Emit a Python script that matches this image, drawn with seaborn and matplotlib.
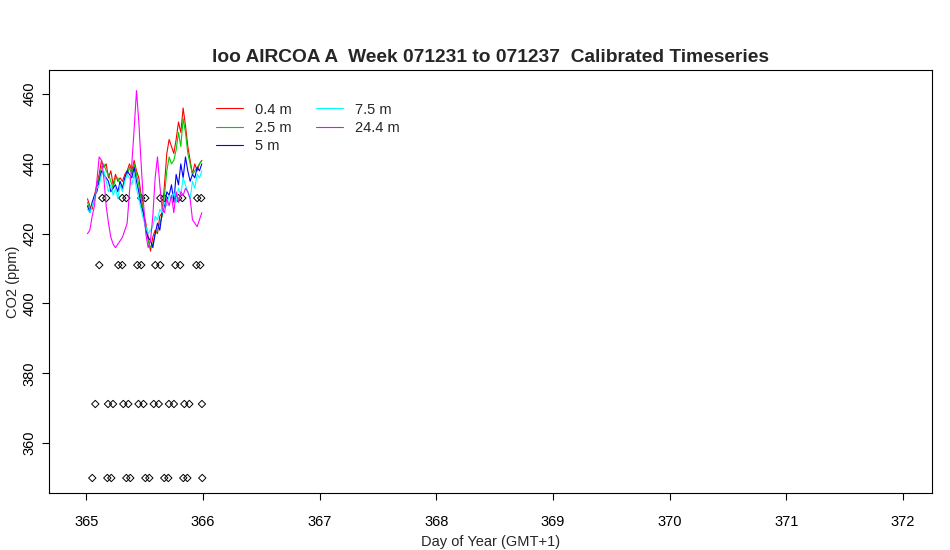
import numpy as np
import pandas as pd
import matplotlib
matplotlib.use('Agg')
import matplotlib.pyplot as plt
import seaborn as sns

# half-hourly-ish samples over day 365
days = [365.01 + 0.02 * i for i in range(50)]

co2_04 = [430, 428, 427, 431, 434, 437, 441, 439, 440, 436,
          438, 434, 437, 435, 436, 435, 437, 438, 440, 438,
          441, 438, 436, 431, 426, 423, 419, 415, 419, 421,
          420, 425, 426, 434, 443, 447, 445, 443, 447, 452,
          449, 456, 451, 445, 441, 437, 440, 438, 440, 441]
co2_25 = [429, 427, 428, 430, 433, 436, 439, 440, 438, 437,
          435, 433, 436, 436, 434, 433, 436, 437, 439, 437,
          440, 437, 434, 430, 425, 422, 418, 416, 417, 420,
          421, 423, 425, 431, 438, 442, 440, 441, 444, 449,
          445, 453, 449, 443, 440, 437, 438, 439, 440, 441]
co2_5 = [428, 426, 429, 431, 432, 435, 438, 437, 436, 435,
         432, 433, 434, 432, 435, 433, 436, 438, 437, 436,
         439, 435, 432, 428, 426, 421, 419, 418, 416, 420,
         423, 421, 426, 428, 432, 431, 434, 429, 437, 434,
         440, 436, 442, 438, 435, 437, 436, 439, 438, 440]
co2_75 = [427, 426, 428, 430, 433, 434, 437, 438, 435, 432,
          434, 431, 433, 430, 434, 432, 435, 437, 436, 434,
          437, 433, 430, 427, 424, 422, 420, 421, 422, 425,
          424, 427, 426, 429, 428, 431, 430, 432, 429, 433,
          431, 436, 434, 432, 430, 435, 433, 437, 436, 438]
co2_244 = [420, 421, 425, 428, 435, 442, 441, 436, 428, 423,
           419, 417, 416, 417, 418, 419, 421, 423, 432, 440,
           450, 461, 452, 440, 429, 420, 416, 418, 425, 436,
           442, 434, 427, 426, 430, 428, 431, 426, 432, 429,
           432, 431, 433, 432, 430, 424, 423, 422, 424, 426]

heights = ['0.4 m', '2.5 m', '5 m', '7.5 m', '24.4 m']
colors = ['#FF0000', '#00CD00', '#0000FF', '#00FFFF', '#FF00FF']

# calibration standards (days, ppm)
cal_days_430 = [365.137, 365.171, 365.308, 365.343, 365.471, 365.506,
                365.634, 365.668, 365.788, 365.823, 365.951, 365.985]
cal_days_411 = [365.111, 365.274, 365.308, 365.437, 365.471, 365.591,
                365.634, 365.763, 365.805, 365.943, 365.977]
cal_days_371 = [365.077, 365.186, 365.229, 365.317, 365.360, 365.447,
                365.490, 365.578, 365.621, 365.708, 365.751, 365.840,
                365.883, 365.991]
cal_days_350 = [365.051, 365.180, 365.214, 365.343, 365.377, 365.506,
                365.540, 365.668, 365.703, 365.831, 365.866, 365.994]
cal_levels = [430.2, 411.0, 371.2, 350.0]

series = [co2_04, co2_25, co2_5, co2_75, co2_244]
lines = pd.DataFrame({
    'day': days * len(heights),
    'co2': sum(series, []),
    'height': [h for h in heights for _ in days],
})
cal = pd.DataFrame({
    'day': cal_days_430 + cal_days_411 + cal_days_371 + cal_days_350,
    'co2': ([cal_levels[0]] * len(cal_days_430) + [cal_levels[1]] * len(cal_days_411)
            + [cal_levels[2]] * len(cal_days_371) + [cal_levels[3]] * len(cal_days_350)),
})

sns.set_style('ticks')
plt.rcParams['font.family'] = ['Liberation Sans', 'DejaVu Sans']

fig = plt.figure(figsize=(9.5, 5.5), dpi=100)
ax = fig.add_axes([49 / 950, 1 - 493 / 550, 883 / 950, 423 / 550])

sns.scatterplot(data=cal, x='day', y='co2', marker='D', s=14, facecolor='none',
                edgecolor='black', linewidth=0.7, ax=ax, zorder=1)
sns.lineplot(data=lines, x='day', y='co2', hue='height', hue_order=heights,
             palette=colors, estimator=None, sort=False, linewidth=0.8, ax=ax, zorder=2)

ax.set_xlim(364.68, 372.25)
ax.set_ylim(345.7, 466.9)
ax.set_xticks(range(365, 373))
ax.set_yticks(range(360, 461, 20))
ax.tick_params(direction='out', length=5, width=0.8, labelsize=10.5, colors='black')
ax.tick_params(axis='x', pad=11)
ax.tick_params(axis='y', pad=4)
for lab in ax.get_yticklabels():
    lab.set_rotation(90)
    lab.set_va('center')
for sp in ax.spines.values():
    sp.set_visible(True)
    sp.set_linewidth(0.8)
    sp.set_color('black')

ax.set_xlabel('Day of Year (GMT+1)', fontsize=10.5, labelpad=4)
ax.set_ylabel('CO2 (ppm)', fontsize=10.5, labelpad=2)
ax.set_title('loo AIRCOA A  Week 071231 to 071237  Calibrated Timeseries',
             fontsize=13.8, fontweight='bold', pad=6)

ax.legend(loc='upper left', bbox_to_anchor=(0.189, 0.923), ncol=2, frameon=False,
          fontsize=10.5, handlelength=1.85, handletextpad=0.8, columnspacing=1.7,
          labelspacing=0.3, borderpad=0, borderaxespad=0)

fig.savefig('out.png', dpi=100)
